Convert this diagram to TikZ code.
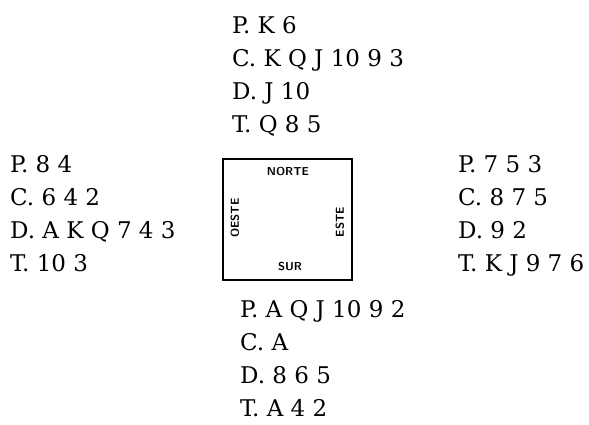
\documentclass[tikz,border=0pt]{standalone}
\usepackage{fontspec}
\setmainfont{DejaVu Serif}
\usetikzlibrary{backgrounds}

\begin{document}
\begin{tikzpicture}[x=1pt, y=-1pt, background rectangle/.style={fill=white}, show background rectangle, inner frame sep=0pt]

  \edef\linesep{33}
  \tikzstyle{hand}=[anchor=base west, inner sep=0pt, font=\fontsize{23}{23}\selectfont]
  \tikzstyle{seat}=[inner sep=0pt, font=\fontsize{11.5}{11.5}\selectfont\sffamily\bfseries]

  \useasboundingbox (0,0) rectangle (589,424);

  % table with the seats
  \node[draw, line width=1.5pt, minimum width=129pt, minimum height=121pt] (table) at (287.5,219.5) {};
  \node[seat] (norte) at (288,172) {NORTE};
  \node[seat] (sur) at (290,267) {SUR};
  \node[seat, rotate=90] (oeste) at (235,218) {OESTE};
  \node[seat, rotate=90] (este) at (340,222) {ESTE};

  % hands
  \foreach \card [count=\i] in {P. K 6, C. K Q J 10 9 3, D. J 10, T. Q 8 5}
    {
      \pgfmathsetmacro{\y}{33 + (\i-1) * \linesep}
      \node[hand] (north\i) at (232,\y) {\card};
    }
  \foreach \card [count=\i] in {P. 8 4, C. 6 4 2, D. A K Q 7 4 3, T. 10 3}
    {
      \pgfmathsetmacro{\y}{172 + (\i-1) * \linesep}
      \node[hand] (west\i) at (10,\y) {\card};
    }
  \foreach \card [count=\i] in {P. 7 5 3, C. 8 7 5, D. 9 2, T. K J 9 7 6}
    {
      \pgfmathsetmacro{\y}{172 + (\i-1) * \linesep}
      \node[hand] (east\i) at (458,\y) {\card};
    }
  \foreach \card [count=\i] in {P. A Q J 10 9 2, C. A, D. 8 6 5, T. A 4 2}
    {
      \pgfmathsetmacro{\y}{317 + (\i-1) * \linesep}
      \node[hand] (south\i) at (240,\y) {\card};
    }
\end{tikzpicture}
\end{document}
